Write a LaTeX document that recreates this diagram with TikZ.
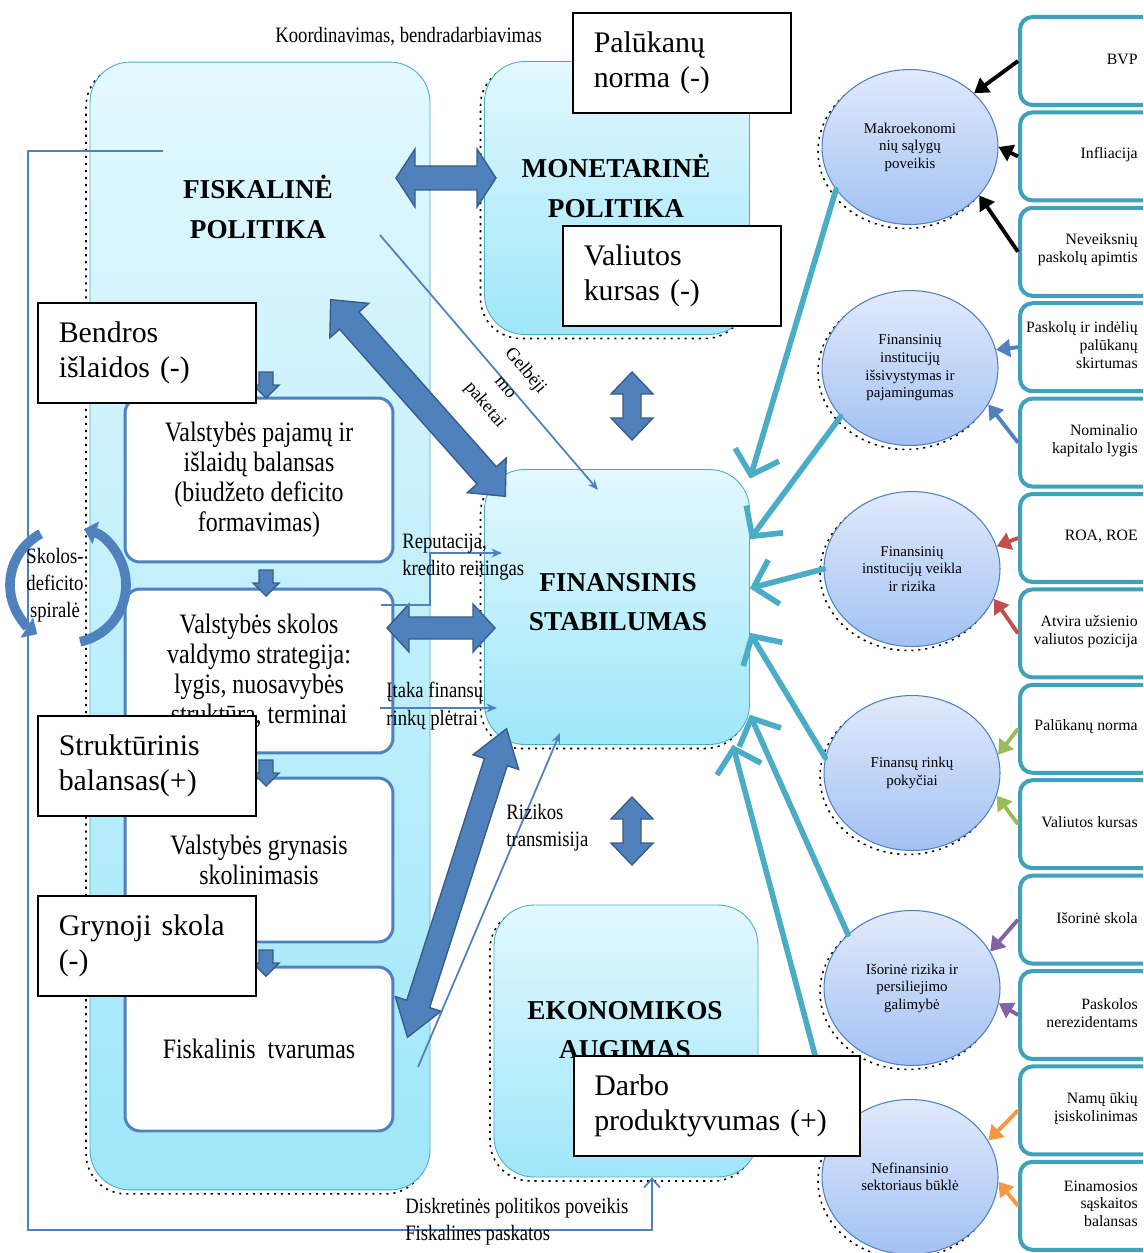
\documentclass[tikz,border=0pt]{standalone}
\usepackage{fontspec}
\setmainfont{Liberation Serif}
\newfontfamily\condfont[FakeStretch=0.85]{Liberation Serif}
\usetikzlibrary{shapes.geometric,arrows.meta,shadows}

\definecolor{arrowblue}{HTML}{4F81BD}
\definecolor{arrowedge}{HTML}{385D8A}
\definecolor{tealline}{HTML}{4BACC6}
\definecolor{rimteal}{HTML}{3FA2BA}
\definecolor{boxtop}{HTML}{E2F8FE}
\definecolor{boxbot}{HTML}{9FE7FA}
\definecolor{ovaltop}{HTML}{E1EAFC}
\definecolor{ovalbot}{HTML}{A3C1F3}
\definecolor{riskred}{HTML}{C0504D}
\definecolor{mktgreen}{HTML}{9BBB59}
\definecolor{extpurple}{HTML}{8064A2}
\definecolor{hhorange}{HTML}{F79646}

\tikzset{
  dotshadow/.style={general shadow={shadow xshift=-0.08cm, shadow yshift=-0.08cm, draw=black, line width=0.9pt, dash pattern=on 1.2pt off 2.8pt}},
  headtxt/.style={align=center, font=\bfseries\fontsize{15.5}{22.5}\selectfont},
  bigbox/.style={draw=tealline, line width=0.5pt, rounded corners=0.8cm, top color=boxtop, bottom color=boxbot, dotshadow},
  innerbox/.style={draw=arrowblue, line width=1.7pt, rounded corners=0.3cm, fill=white, minimum width=5.36cm, minimum height=3.28cm, align=center, font=\condfont\fontsize{16}{17}\selectfont},
  callout/.style={draw=black, line width=0.9pt, fill=white, anchor=north west, minimum width=4.36cm, minimum height=2cm, text width=3.52cm, align=left, font=\fontsize{17}{19.5}\selectfont},
  lab/.style={font=\condfont\fontsize{12.5}{15.5}\selectfont, align=left, inner sep=0pt},
  fatarrow/.style={fill=arrowblue, draw=arrowedge, line width=0.8pt, line join=miter},
  thinarrow/.style={draw=arrowblue, line width=1pt, -{Stealth[length=6pt,width=5pt]}},
  loopline/.style={draw=arrowblue, line width=1pt, -{Straight Barb[length=5pt,width=9pt]}},
  spiral/.style={draw=arrowblue, line width=5.5pt},
  oval/.style={ellipse, draw=arrowblue, line width=0.6pt, top color=ovaltop, bottom color=ovalbot, minimum width=3.52cm, minimum height=3.1cm, inner sep=0pt, align=center, dotshadow, font=\fontsize{8.5}{10}\selectfont},
  rbox/.style={draw=rimteal, line width=2.3pt, rounded corners=0.25cm, fill=white, minimum width=3cm, minimum height=1.76cm, anchor=north west},
  rtext/.style={anchor=east, align=right, inner sep=0pt, font=\fontsize{9}{10.2}\selectfont},
  tealarr/.style={draw=tealline, line width=3.2pt, line cap=round, -{Straight Barb[length=12pt,width=26pt]}},
  factor/.style={line width=2.2pt, -{Triangle[length=8pt,width=10pt]}},
  pics/dblarrow/.style n args={4}{code={
    \filldraw[fatarrow] (-#1/2,0) -- (-#1/2+#4,-#3) -- (-#1/2+#4,-#2) -- (#1/2-#4,-#2) -- (#1/2-#4,-#3) -- (#1/2,0)
      -- (#1/2-#4,#3) -- (#1/2-#4,#2) -- (-#1/2+#4,#2) -- (-#1/2+#4,#3) -- cycle;
  }},
  pics/downarr/.style={code={
    \filldraw[fatarrow] (-7,0) -- (7,0) -- (7,13) -- (13,13) -- (0,26) -- (-13,13) -- (-7,13) -- cycle;
  }},
}

\begin{document}
\begin{tikzpicture}[x=0.02cm, y=-0.02cm]
\useasboundingbox (0,0) rectangle (1143,1253);
\clip (0,0) rectangle (1143,1253);

\node[lab, anchor=west] (coord) at (275,37) {Koordinavimas, bendradarbiavimas};

\node[bigbox, minimum width=6.8cm, minimum height=22.56cm] (fisc) at (260,626) {};
\node[headtxt] (fisctxt) at (258,207) {FISKALINĖ\\POLITIKA};
\node[bigbox, minimum width=5.3cm, minimum height=5.46cm] (mon) at (617,198) {};
\node[headtxt] (montxt) at (616,186) {MONETARINĖ\\POLITIKA};
\node[bigbox, minimum width=5.3cm, minimum height=5.5cm] (fs) at (617,607) {};
\node[headtxt] (fstxt) at (618,602) {FINANSINIS\\STABILUMAS};
\node[bigbox, minimum width=5.28cm, minimum height=5.44cm] (ekon) at (626,1041) {};
\node[headtxt] (ekontxt) at (625,1030) {EKONOMIKOS\\AUGIMAS};

\node[innerbox] (bal) at (259,480) {Valstybės pajamų ir\\išlaidų balansas\\(biudžeto deficito\\formavimas)};
\node[innerbox] (strat) at (259,671) {Valstybės skolos\\valdymo strategija:\\lygis, nuosavybės\\struktūra, terminai};
\node[innerbox] (skol) at (259,860) {Valstybės grynasis\\skolinimasis};
\node[innerbox] (tvar) at (259,1049) {Fiskalinis\ \ tvarumas};
\foreach \ya in {372,570,760,950}
  \pic at (266,\ya) {downarr};

\coordinate (fbstart) at (163,151);
\draw[loopline] (fbstart) -| (28,1230) -| (652,0 |- ekon.south);

\coordinate (spc) at (68,585);
\draw[spiral, -{Triangle[length=7pt,width=13pt]}] (spc) ++(78:58) arc[start angle=78, end angle=-74, radius=58];
\draw[spiral, -{Triangle[length=7pt,width=13pt]}] (spc) ++(-118:58) arc[start angle=-118, end angle=-238, radius=58];
\node[lab, align=center] (spirtxt) at (55,585) {Skolos-\\deficito\\spiralė};

\pic at (446,178) {dblarrow={100}{12}{29}{19}};
\pic at (441,628) {dblarrow={108}{11}{24}{22}};
\pic[rotate=90] at (632,406) {dblarrow={68}{9}{21}{22}};
\pic[rotate=90] at (632,831) {dblarrow={68}{9}{21}{22}};
\pic[rotate=-48.4] at (418,398) {dblarrow={263}{13}{26}{28}};
\pic[rotate=72.2] at (457,883) {dblarrow={324}{12}{24}{35}};

\coordinate (gelb) at (380,235);
\coordinate (gelbend) at (598,490);
\draw[thinarrow] (gelb) -- (gelbend);
\node[lab, align=center, rotate=-50, font=\fontsize{10.5}{15}\selectfont] (gelbtxt) at (505,388) {Gelbėji\\mo\\paketai};

\coordinate (repstart) at (381,605);
\coordinate (repend) at (502,553);
\draw[thinarrow] (repstart) -- ++(49,0) |- (repend);
\node[lab, anchor=west] (rep) at (402,557) {Reputacija,\\kredito reitingas};

\coordinate (itkstart) at (380,708);
\coordinate (itkend) at (497,708);
\draw[thinarrow] (itkstart) -- (itkend);
\node[lab, anchor=west] (itaka) at (386,706) {Įtaka finansų\\rinkų plėtrai};

\coordinate (riskstart) at (418,1067);
\coordinate (riskend) at (560,733);
\draw[thinarrow] (riskstart) -- (riskend);
\node[lab, anchor=west] (rizt) at (506,828) {Rizikos\\transmisija};

\node[lab, anchor=west] (disk) at (405,1222) {Diskretinės politikos poveikis\\Fiskalines paskatos};

\foreach \i/\txt in {1/BVP, 2/Infliacija, 3/{Neveiksnių\\paskolų apimtis}, 4/{Paskolų ir indėlių\\palūkanų\\skirtumas},
    5/{Nominalio\\kapitalo lygis}, 6/{ROA, ROE}, 7/{Atvira užsienio\\valiutos pozicija}, 8/{Palūkanų norma},
    9/{Valiutos kursas}, 10/{Išorinė skola}, 11/{Paskolos\\nerezidentams}, 12/{Namų ūkių\\įsiskolinimas},
    13/{Einamosios\\sąskaitos\\balansas}}{
  \node[rbox] (r\i) at (1018,{15+95.4*(\i-1)}) {};
  \node[rtext] (rt\i) at (1138,{59+95.4*(\i-1)}) {\txt};
}

\node[oval] (c1) at (910,147) {Makroekonomi\\nių sąlygų\\poveikis};
\node[oval] (c2) at (910,368) {Finansinių\\institucijų\\išsivystymas ir\\pajamingumas};
\node[oval] (c3) at (912,569) {Finansinių\\institucijų veikla\\ir rizika};
\node[oval] (c4) at (912,773) {Finansų rinkų\\pokyčiai};
\node[oval] (c5) at (912,988) {Išorinė rizika ir\\persiliejimo\\galimybė};
\node[oval] (c6) at (910,1177) {Nefinansinio\\sektoriaus būklė};

\draw[factor, black] (r1.west) -- (c1.40);
\draw[factor, black] (r2.west) -- (c1.0);
\draw[factor, black] (r3.west) -- (c1.-35);
\draw[factor, arrowblue] (r4.west) -- (c2.12);
\draw[factor, arrowblue] (r5.west) -- (c2.-25);
\draw[factor, riskred] (r6.west) -- (c3.15);
\draw[factor, riskred] (r7.west) -- (c3.-20);
\draw[factor, mktgreen] (r8.west) -- (c4.12);
\draw[factor, mktgreen] (r9.west) -- (c4.-15);
\draw[factor, extpurple] (r10.west) -- (c5.25);
\draw[factor, extpurple] (r11.west) -- (c5.-10);
\draw[factor, hhorange] (r12.west) -- (c6.25);
\draw[factor, hhorange] (r13.west) -- (c6.-3);

\draw[tealarr] (c1.210) -- (fs.44);
\draw[tealarr] (c2.215) -- (fs.27);
\draw[tealarr] (c3.180) -- (fs.8);
\draw[tealarr] (c4.170) -- (fs.-11);
\draw[tealarr] (c5.140) -- (fs.-39);
\draw[tealarr] (c6.150) -- (fs.-50);

\node[callout] (palu) at (572,12) {Palūkanų\\norma (-)};
\node[callout] (valk) at (562,225) {Valiutos\\kursas (-)};
\node[callout] (bend) at (37,302) {Bendros\\išlaidos (-)};
\node[callout] (strukt) at (37,715) {Struktūrinis\\balansas(+)};
\node[callout] (gryn) at (37,895) {Grynoji skola\\(-)};
\node[callout, minimum width=5.72cm, text width=4.9cm] (darbo) at (573,1055) {Darbo\\produktyvumas (+)};
\end{tikzpicture}
\end{document}
